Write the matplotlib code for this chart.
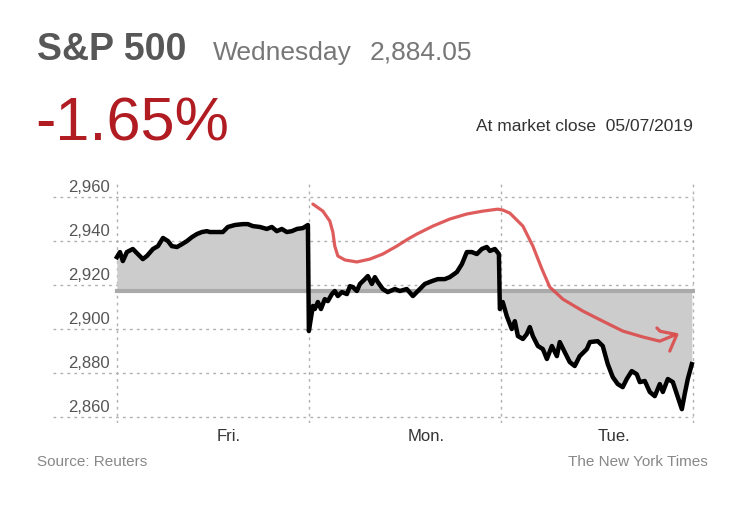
import matplotlib.pyplot as plt

plt.rcParams["font.family"] = ["Liberation Sans Narrow", "Liberation Sans", "DejaVu Sans"]

# S&P 500 intraday, x in trading days since Friday open (0..3)
fri_t = [0.000, 0.016, 0.031, 0.052, 0.083, 0.109, 0.135, 0.156, 0.188, 0.214,
         0.240, 0.266, 0.286, 0.313, 0.339, 0.365, 0.391, 0.417, 0.443, 0.469,
         0.484, 0.521, 0.552, 0.578, 0.615, 0.656, 0.682, 0.708, 0.745, 0.781,
         0.807, 0.833, 0.859, 0.885, 0.911, 0.938, 0.969, 0.995]
fri_v = [2932.7, 2935.0, 2930.9, 2935.0, 2936.4, 2934.1, 2931.8, 2933.2, 2936.4, 2937.7,
         2941.4, 2940.0, 2937.7, 2937.3, 2938.6, 2940.0, 2941.8, 2943.2, 2944.1, 2944.5,
         2944.1, 2944.1, 2944.1, 2946.4, 2947.3, 2947.7, 2947.7, 2946.8, 2946.4, 2945.5,
         2946.4, 2944.5, 2945.5, 2944.1, 2944.5, 2945.5, 2945.9, 2947.3]

mon_t = [1.000, 1.021, 1.031, 1.047, 1.063, 1.083, 1.099, 1.120, 1.135, 1.151,
         1.172, 1.198, 1.214, 1.229, 1.250, 1.266, 1.292, 1.307, 1.328, 1.344,
         1.359, 1.385, 1.411, 1.448, 1.474, 1.510, 1.542, 1.568, 1.604, 1.641,
         1.672, 1.708, 1.734, 1.771, 1.797, 1.823, 1.849, 1.875, 1.901, 1.927,
         1.943, 1.969, 1.990]
mon_v = [2899.1, 2910.5, 2909.1, 2912.3, 2909.1, 2913.6, 2912.7, 2915.9, 2917.3, 2915.0,
         2916.8, 2915.9, 2919.5, 2919.1, 2917.3, 2920.5, 2922.7, 2924.1, 2920.5, 2923.6,
         2921.4, 2918.2, 2916.8, 2918.2, 2917.3, 2918.2, 2915.0, 2917.3, 2920.5, 2921.8,
         2922.7, 2922.7, 2923.6, 2925.9, 2929.5, 2935.0, 2935.0, 2934.1, 2936.4, 2937.3,
         2935.5, 2936.4, 2934.1]

tue_t = [1.995, 2.010, 2.031, 2.057, 2.073, 2.089, 2.115, 2.135, 2.151, 2.167,
         2.193, 2.219, 2.240, 2.266, 2.292, 2.307, 2.333, 2.359, 2.385, 2.411,
         2.448, 2.464, 2.505, 2.531, 2.557, 2.583, 2.609, 2.635, 2.656, 2.682,
         2.708, 2.724, 2.750, 2.776, 2.802, 2.828, 2.844, 2.870, 2.896, 2.922,
         2.943, 2.958, 2.974, 2.995]
tue_v = [2909.1, 2912.3, 2905.9, 2900.0, 2903.6, 2896.8, 2895.5, 2897.7, 2900.9, 2896.8,
         2892.3, 2890.9, 2886.4, 2892.3, 2887.7, 2894.1, 2889.5, 2885.0, 2883.2, 2887.7,
         2890.9, 2894.1, 2894.5, 2892.3, 2884.1, 2878.2, 2875.0, 2873.6, 2877.3, 2880.9,
         2879.5, 2875.9, 2876.4, 2871.4, 2869.5, 2875.0, 2871.4, 2877.3, 2875.9, 2869.1,
         2863.6, 2870.5, 2877.3, 2884.05]

prev_close = 2917.5

# hand-drawn red annotation
red_t = [1.021, 1.073, 1.109, 1.125, 1.135, 1.151, 1.188, 1.250, 1.318, 1.385,
         1.458, 1.516, 1.563, 1.646, 1.734, 1.823, 1.906, 1.984, 2.010, 2.047,
         2.115, 2.167, 2.214, 2.255, 2.323, 2.427, 2.531, 2.635, 2.740, 2.828, 2.906]
red_v = [2956.8, 2953.6, 2949.1, 2944.1, 2937.7, 2933.2, 2931.4, 2930.5, 2931.8, 2934.1,
         2937.7, 2940.9, 2943.2, 2946.8, 2950.0, 2952.3, 2953.6, 2954.5, 2954.1, 2952.7,
         2946.8, 2937.7, 2927.3, 2919.1, 2913.6, 2908.2, 2903.6, 2899.1, 2896.4, 2894.5, 2897.3]
arrow_t = [2.813, 2.830, 2.917, 2.880]
arrow_v = [2900.5, 2899.0, 2897.5, 2890.0]

yticks = [2860, 2880, 2900, 2920, 2940, 2960]
day_pos = [0.58, 1.61, 2.59]
day_labels = ["Fri.", "Mon.", "Tue."]
day_edges = [0, 1, 2, 3]

t = fri_t + mon_t + tue_t
v = fri_v + mon_v + tue_v

fig = plt.figure(figsize=(7.43, 5.10), dpi=100)
ax = fig.add_axes([0.0713, 0.1686, 0.8637, 0.4724])
ax.set_xlim(-0.333, 3.01)
ax.set_ylim(2857.3, 2966.8)
ax.axis("off")

grid = dict(color="#b0b0b0", lw=1.0, ls=(0, (2, 3)))
for y in yticks:
    ax.plot([-0.333, 3.0], [y, y], zorder=1, **grid)
for x in day_edges:
    ax.plot([x, x], [2857.3, 2966.8], zorder=1, **grid)

ax.fill_between(t, v, prev_close, color="#cccccc", lw=0, zorder=2)
ax.plot([0, 3.0], [prev_close, prev_close], color="#aaaaaa", lw=3, zorder=3)
ax.plot(t, v, color="black", lw=3.2, solid_joinstyle="round", zorder=4)

ax.plot(red_t, red_v, color="#dc4a4a", lw=2.3, alpha=0.9, solid_capstyle="round", zorder=5)
ax.plot(arrow_t, arrow_v, color="#dc4a4a", lw=2.3, alpha=0.9,
        solid_capstyle="round", solid_joinstyle="round", zorder=5)

for y in yticks:
    ax.text(-0.035, y + 5, f"{y:,}", ha="right", va="center", fontsize=12, color="#555555")

for x, lab in zip(day_pos, day_labels):
    ax.text(x, 2851.5, lab, ha="center", va="center", fontsize=12, color="#333333")

fig.text(0.050, 0.902, "S&P 500", fontsize=27, fontweight="bold", color="#575757",
         ha="left", va="center")
fig.text(0.287, 0.897, "Wednesday", fontsize=19, color="#777777", ha="left", va="center")
fig.text(0.498, 0.897, "2,884.05", fontsize=19, color="#777777", ha="left", va="center")
fig.text(0.048, 0.755, "-1.65%", fontsize=44, color="#b01c22", ha="left", va="center")
fig.text(0.933, 0.751, "At market close  05/07/2019", fontsize=12.5, color="#333333",
         ha="right", va="center")
fig.text(0.050, 0.094, "Source: Reuters", fontsize=11, color="#888888", ha="left", va="center")
fig.text(0.953, 0.094, "The New York Times", fontsize=11, color="#888888", ha="right", va="center")

fig.savefig("out.png", dpi=100, facecolor="white")
